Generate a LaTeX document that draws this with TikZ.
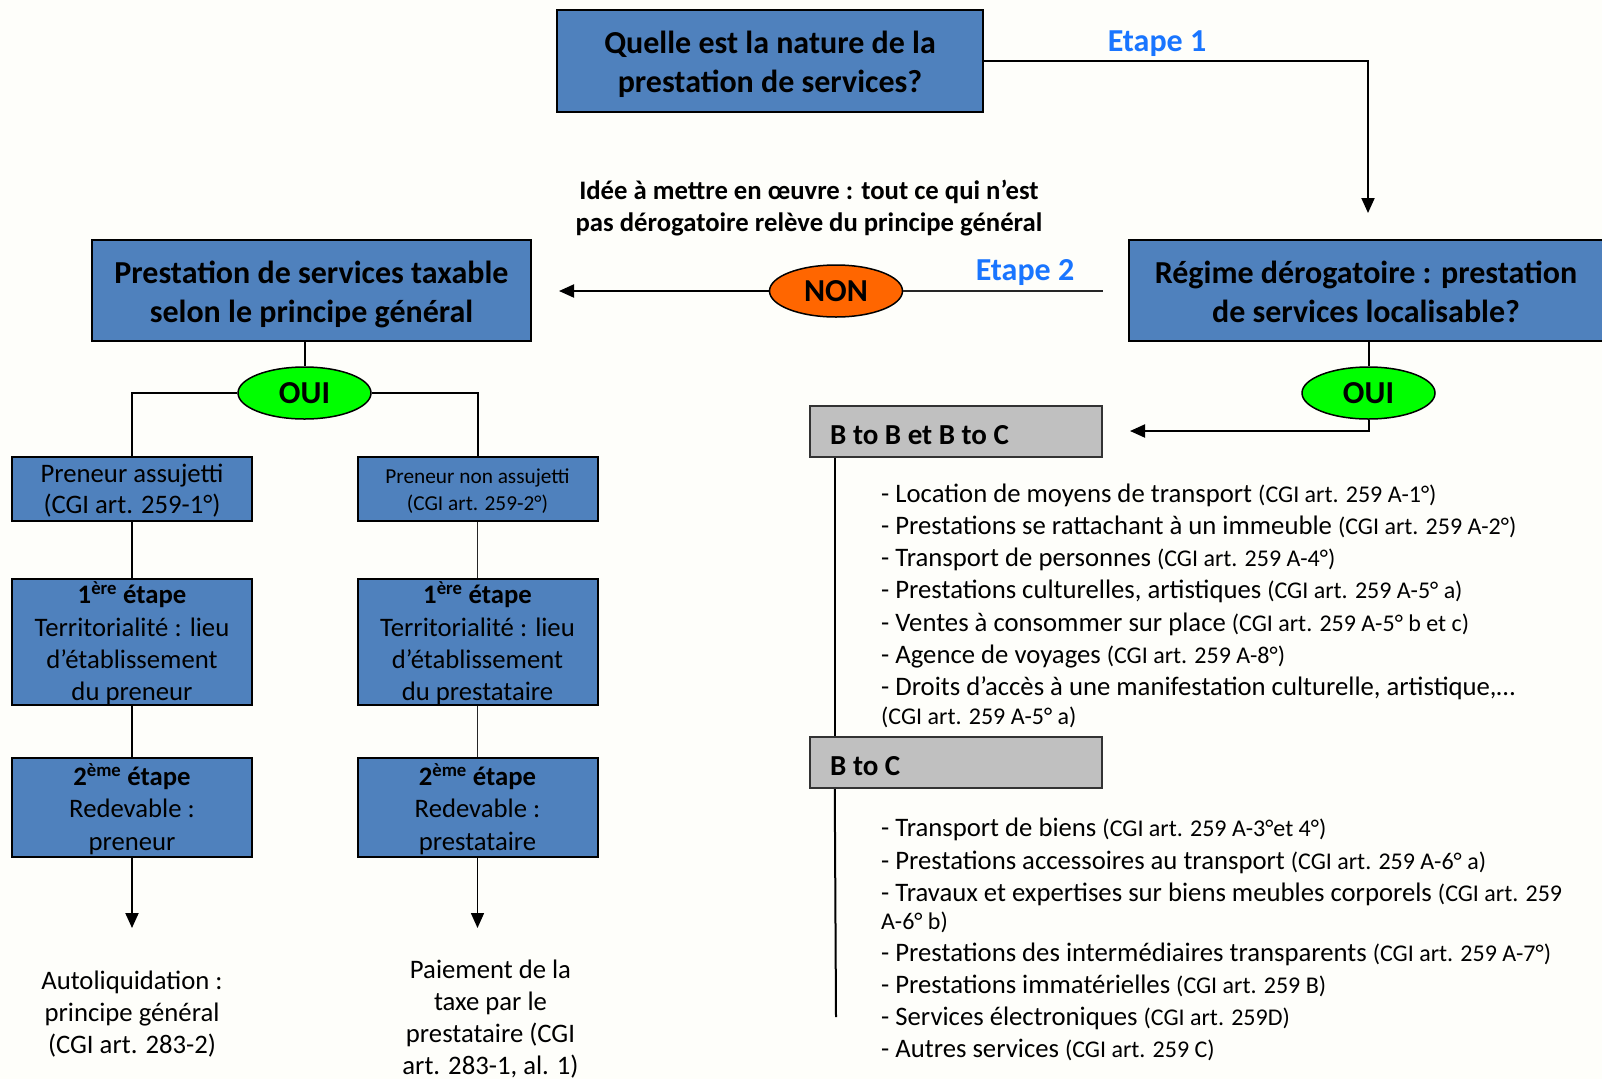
\documentclass[tikz,border=0pt]{standalone}
\usepackage{fontspec}
\setmainfont{Carlito}
\usetikzlibrary{arrows.meta,shapes.geometric}
\definecolor{boxblue}{RGB}{79,129,189}
\definecolor{boxgray}{RGB}{192,192,192}
\definecolor{nonorange}{RGB}{255,102,0}
\definecolor{ouigreen}{RGB}{0,255,0}
\definecolor{etapeblue}{RGB}{25,117,255}
\definecolor{bgcol}{RGB}{254,254,250}
\newcommand\myHead{\fontsize{32}{39}\selectfont\bfseries}
\newcommand\myText{\fontsize{26.7}{32.4}\selectfont}
\newcommand\myRef{\fontsize{24}{29}\selectfont}
\newcommand\mySmall{\fontsize{21.3}{26.5}\selectfont}
\newcommand\myOval{\fontsize{32}{36}\selectfont\bfseries}
\newcommand\myGray{\fontsize{29}{34}\selectfont\bfseries}
\begin{document}
\begin{tikzpicture}[x=1pt,y=-1pt,
  bluebox/.style={draw=black, line width=2pt, fill=boxblue, inner sep=0pt},
  graybox/.style={draw=black!80, line width=2pt, fill=boxgray, inner sep=0pt},
  boxtext/.style={align=center, inner sep=0pt},
  oval/.style={ellipse, draw=black, line width=1.5pt, minimum width=133pt, minimum height=52pt, inner sep=0pt, font=\myOval},
  conn/.style={draw=black, line width=2pt},
  thinconn/.style={draw=black!85, line width=1.5pt},
  arr/.style={conn, -{Triangle[width=13pt,length=15pt]}},
  listline/.style={anchor=west, inner sep=0pt, font=\myText},
  label/.style={font=\myHead, text=etapeblue, inner sep=0pt},
  plain/.style={align=center, inner sep=0pt, font=\fontsize{26.7}{32}\selectfont}
]
\useasboundingbox (0,0) rectangle (1602,1079);
\fill[bgcol] (0,0) rectangle (1602,1079);

% top question
\node[bluebox, minimum width=426pt, minimum height=102pt] (q1) at (770,61) {};
\node[boxtext, font=\myHead] (q1t) at (770,64) {Quelle est la nature de la\\prestation de services?};
\node[label] (et1) at (1157,44) {Etape 1};
\coordinate (t1) at (1368,213);
\draw[arr] (q1.east) -| (t1);

% idea text
\node[align=center, inner sep=0pt, font=\fontsize{26.7}{32}\selectfont\bfseries] (idea) at (809,208)
  {Idée à mettre en œuvre : tout ce qui n’est\\pas dérogatoire relève du principe général};

% main boxes
\node[bluebox, minimum width=439pt, minimum height=101pt] (tax) at (311.5,290.5) {};
\node[boxtext, font=\myHead] (taxt) at (311.5,294) {Prestation de services taxable\\selon le principe général};
\node[bluebox, minimum width=474pt, minimum height=101pt] (reg) at (1366,290.5) {};
\node[boxtext, font=\myHead] (regt) at (1366,291.5) {Régime dérogatoire : prestation\\de services localisable?};

% NON
\node[oval, fill=nonorange] (non) at (836,291) {NON};
\node[label] (et2) at (1025,273) {Etape 2};
\coordinate (nontip) at (559,291);
\coordinate (regleft) at (1103,291);
\draw[arr] (non.west) -- (nontip);
\draw[thinconn] (non.east) -- (regleft);

% left OUI
\node[oval, fill=ouigreen] (ouiL) at (304.5,393) {OUI};
\draw[conn] (tax.south -| ouiL.north) -- (ouiL.north);

\node[bluebox, minimum width=240pt, minimum height=64pt] (pa) at (132,489) {};
\node[boxtext, font=\fontsize{26.7}{31}\selectfont] (pat) at (132,491) {Preneur assujetti\\(CGI art. 259-1°)};
\node[bluebox, minimum width=240pt, minimum height=64pt] (pna) at (477.5,489) {};
\node[boxtext, font=\mySmall] (pnat) at (477.5,491) {Preneur non assujetti\\(CGI art. 259-2°)};
\draw[conn] (ouiL.west) -| (pa.north);
\draw[conn] (ouiL.east) -| (pna.north);

\node[bluebox, minimum width=240pt, minimum height=126pt] (e1a) at (132,642) {};
\node[boxtext, font=\myText] (e1at) at (132,643.5)
  {\textbf{1\textsuperscript{ère} étape}\\Territorialité : lieu\\d’établissement\\du preneur};
\node[bluebox, minimum width=240pt, minimum height=126pt] (e1b) at (477.5,642) {};
\node[boxtext, font=\myText] (e1bt) at (477.5,643.5)
  {\textbf{1\textsuperscript{ère} étape}\\Territorialité : lieu\\d’établissement\\du prestataire};
\node[bluebox, minimum width=240pt, minimum height=99pt] (e2a) at (132,807) {};
\node[boxtext, font=\myText] (e2at) at (132,809)
  {\textbf{2\textsuperscript{ème} étape}\\Redevable :\\preneur};
\node[bluebox, minimum width=240pt, minimum height=99pt] (e2b) at (477.5,807) {};
\node[boxtext, font=\myText] (e2bt) at (477.5,809)
  {\textbf{2\textsuperscript{ème} étape}\\Redevable :\\prestataire};
\draw[conn] (pa.south) -- (e1a.north);
\draw[conn] (e1a.south) -- (e2a.north);
\draw[thinconn] (pna.south) -- (e1b.north);
\draw[thinconn] (e1b.south) -- (e2b.north);
\coordinate (enda) at (132,928);
\coordinate (endb) at (477.5,928);
\draw[arr] (e2a.south) -- (enda);
\draw[arr, line width=1.5pt] (e2b.south) -- (endb);

\node[plain] (autol) at (132,1014.5) {Autoliquidation :\\principe général\\(CGI art. 283-2)};
\node[plain] (paie) at (490.5,1019.5) {Paiement de la\\taxe par le\\prestataire (CGI\\art. 283-1, al. 1)};

% right OUI
\node[oval, fill=ouigreen] (ouiR) at (1368.5,393) {OUI};
\draw[conn] (reg.south -| ouiR.north) -- (ouiR.north);
\coordinate (btip) at (1130,431);
\draw[arr] (ouiR.south) |- (btip);

% gray boxes
\node[graybox, minimum width=292.5pt, minimum height=51pt] (btob) at (956,431.5) {};
\node[anchor=west, inner sep=0pt, font=\myGray] (btobt) at (830,435.5) {B to B et B to C};
\node[graybox, minimum width=292.5pt, minimum height=51pt] (btoc) at (956,762.5) {};
\node[anchor=west, inner sep=0pt, font=\myGray] (btoct) at (830,766.5) {B to C};
\coordinate (vend) at (836,1017);
\draw[conn] ([xshift=26pt]btob.south west) -- ([xshift=26pt]btoc.north west);
\draw[conn] ([xshift=26pt]btoc.south west) -- (vend);

% list 1
\node[listline] (l1) at (881,495) {- Location de moyens de transport {\myRef(CGI art. 259 A-1°)}};
\node[listline] (l2) at (881,526.5) {- Prestations se rattachant à un immeuble {\myRef(CGI art. 259 A-2°)}};
\node[listline] (l3) at (881,559) {- Transport de personnes {\myRef(CGI art. 259 A-4°)}};
\node[listline] (l4) at (881,591.5) {- Prestations culturelles, artistiques {\myRef(CGI art. 259 A-5° a)}};
\node[listline] (l5) at (881,624) {- Ventes à consommer sur place {\myRef(CGI art. 259 A-5° b et c)}};
\node[listline] (l6) at (881,656.5) {- Agence de voyages {\myRef(CGI art. 259 A-8°)}};
\node[listline] (l7) at (881,688.5) {- Droits d’accès à une manifestation culturelle, artistique,…};
\node[listline] (l8) at (881,717.5) {\myRef(CGI art. 259 A-5° a)};

% list 2
\node[listline] (m1) at (881,829.5) {- Transport de biens {\myRef(CGI art. 259 A-3°et 4°)}};
\node[listline] (m2) at (881,862) {- Prestations accessoires au transport {\myRef(CGI art. 259 A-6° a)}};
\node[listline] (m3) at (881,894) {- Travaux et expertises sur biens meubles corporels {\myRef(CGI art. 259}};
\node[listline] (m4) at (881,922.5) {\myRef A-6° b)};
\node[listline] (m5) at (881,954) {- Prestations des intermédiaires transparents {\myRef(CGI art. 259 A-7°)}};
\node[listline] (m6) at (881,986) {- Prestations immatérielles {\myRef(CGI art. 259 B)}};
\node[listline] (m7) at (881,1018.5) {- Services électroniques {\myRef(CGI art. 259D)}};
\node[listline] (m8) at (881,1050) {- Autres services {\myRef(CGI art. 259 C)}};
\end{tikzpicture}
\end{document}
